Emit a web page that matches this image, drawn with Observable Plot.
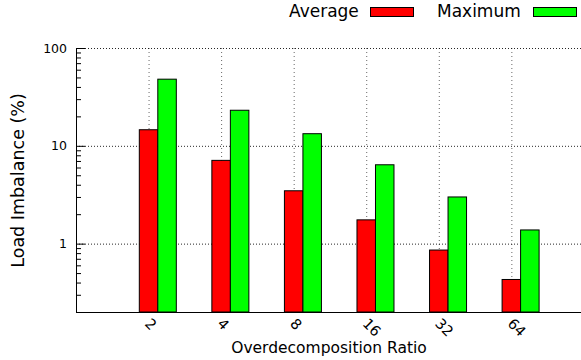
<!DOCTYPE html>
<html>
<head>
<meta charset="utf-8">
<script src="https://cdn.jsdelivr.net/npm/d3@7"></script>
<script src="https://cdn.jsdelivr.net/npm/@observablehq/plot@0.6"></script>
<style>
  html, body { margin: 0; padding: 0; background: #fff; overflow: hidden; }
  body { width: 581px; height: 360px; font-family: "DejaVu Sans", sans-serif; color: #000; }
  #legend { position: relative; height: 24px; font-size: 17px; }
  #legend .label { position: absolute; top: 2.6px; line-height: 17px; white-space: nowrap; }
  #legend .swatch { position: absolute; top: 7px; width: 44px; height: 10px; box-sizing: border-box; border: 1px solid #000; }
  #chart svg { display: block; }
</style>
</head>
<body>
<div id="legend"></div>
<div id="chart"></div>
<script>
// Overdecomposition ratios on the x axis
const ratios = ["2", "4", "8", "16", "32", "64"];
// Series names and colours
const seriesNames = ["Average", "Maximum"];
const seriesColors = ["#ff0000", "#00ff00"];
// Load imbalance (%) per ratio
const averageValues = [14.6, 7.1, 3.47, 1.75, 0.86, 0.43];
const maximumValues = [48, 23.1, 13.3, 6.4, 3.0, 1.38];
// Log-axis ticks
const majorTicks = [1, 10, 100];
const minorTicks = [0.3, 0.4, 0.5, 0.6, 0.7, 0.8, 0.9, 2, 3, 4, 5, 6, 7, 8, 9, 20, 30, 40, 50, 60, 70, 80, 90];

const valuesBySeries = [averageValues, maximumValues];
const rows = ratios.flatMap((ratio, i) =>
  seriesNames.map((series, s) => ({ratio, i, s, series, value: valuesBySeries[s][i]}))
);

// clustered bars: each bar spans this fraction of a category step
const barWidth = 0.255;
const yMin = 0.2;

// legend
const legend = document.getElementById("legend");
const legendLayout = [
  {text: 289, swatch: 370},
  {text: 437, swatch: 533}
];
seriesNames.forEach((name, s) => {
  const label = document.createElement("div");
  label.className = "label";
  label.style.left = legendLayout[s].text + "px";
  label.textContent = name;
  legend.appendChild(label);
  const sw = document.createElement("div");
  sw.className = "swatch";
  sw.style.left = legendLayout[s].swatch + "px";
  sw.style.background = seriesColors[s];
  legend.appendChild(sw);
});

const chart = Plot.plot({
  width: 581,
  height: 336,
  marginLeft: 76,
  marginRight: 0,
  marginTop: 24,
  marginBottom: 48,
  style: {fontFamily: "DejaVu Sans, sans-serif", fontSize: "12.5px", color: "#000", background: "#fff", overflow: "visible"},
  x: {type: "linear", domain: [-1, 5.96], axis: null},
  y: {type: "log", domain: [yMin, 100], axis: null},
  color: {domain: seriesNames, range: seriesColors},
  marks: [
    // dotted grid
    Plot.ruleY(majorTicks, {stroke: "#000", strokeOpacity: 0.85, strokeDasharray: "1,2"}),
    Plot.ruleX(d3.range(ratios.length), {stroke: "#000", strokeOpacity: 0.6, strokeDasharray: "1,3"}),
    // bars
    Plot.rect(rows, {
      x1: d => d.i + d.s * barWidth - barWidth / 2,
      x2: d => d.i + d.s * barWidth + barWidth / 2,
      y1: yMin,
      y2: "value",
      fill: "series",
      stroke: "#000",
      strokeWidth: 1
    }),
    // axes lines
    Plot.frame({anchor: "left", stroke: "#000"}),
    Plot.frame({anchor: "bottom", stroke: "#000"}),
    // y ticks (inward) and labels
    Plot.axisY({ticks: minorTicks, tickSize: -5, fill: "none", stroke: "#000", label: null}),
    Plot.axisY({ticks: majorTicks, tickSize: -9, fill: "none", stroke: "#000", label: null}),
    Plot.axisY({ticks: majorTicks, tickSize: 0, tickPadding: 9.5, tickFormat: d => String(d), fill: "#000", fontSize: 12.5, label: null}),
    // x tick labels, rotated
    Plot.text(ratios, {
      x: (d, i) => i,
      text: d => d,
      frameAnchor: "bottom",
      rotate: 45,
      textAnchor: "start",
      lineAnchor: "bottom",
      dx: -5,
      dy: 12,
      fontSize: 14.5,
      fill: "#000"
    }),
    // axis titles
    Plot.text(["Overdecomposition Ratio"], {frameAnchor: "bottom", lineAnchor: "bottom", dy: 40, fontSize: 15.5, fill: "#000"}),
    Plot.text(["Load Imbalance (%)"], {frameAnchor: "left", rotate: -90, textAnchor: "middle", lineAnchor: "middle", dx: -58, fontSize: 17.5, fill: "#000"})
  ]
});
document.getElementById("chart").appendChild(chart);
</script>
</body>
</html>
